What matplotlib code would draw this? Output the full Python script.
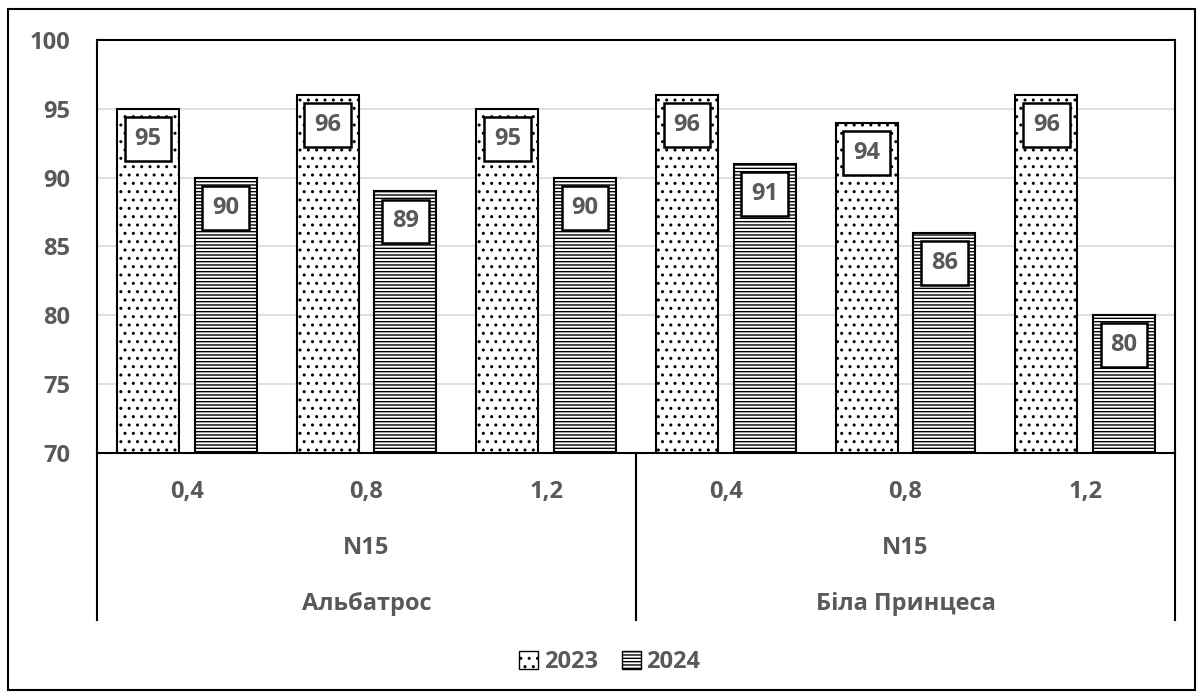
import matplotlib.pyplot as plt
import matplotlib.patches as mpatches
from matplotlib.lines import Line2D
import numpy as np

plt.rcParams['font.family'] = ['Open Sans', 'DejaVu Sans']
plt.rcParams['hatch.linewidth'] = 1.0

doses = ['0,4', '0,8', '1,2', '0,4', '0,8', '1,2']
fert = ['N15', 'N15']
varieties = ['Альбатрос', 'Біла Принцеса']
y2023 = [95, 96, 95, 96, 94, 96]
y2024 = [90, 89, 90, 91, 86, 80]

grey = '#595959'
fs = 17
fig = plt.figure(figsize=(12.03, 6.98), dpi=100)
ax = fig.add_axes([0.0806, 0.351, 0.8961, 0.5917])

x = np.arange(len(doses))
w = 0.345
off = 0.216
ax.bar(x - off, y2023, w, color='white', edgecolor='black', hatch='..', linewidth=1.5, zorder=2)
ax.bar(x + off, y2024, w, color='white', edgecolor='black', hatch='-----', linewidth=1.5, zorder=2)

# value boxes near the top of each bar
for xs, vals in ((x - off, y2023), (x + off, y2024)):
    for xi, v in zip(xs, vals):
        ax.annotate(str(v), (xi, v), xytext=(0, -30), textcoords='offset pixels',
                    ha='center', va='center', fontsize=fs, fontweight='bold', color=grey,
                    bbox=dict(boxstyle='square,pad=0.42', fc='white', ec='black', lw=1.8),
                    zorder=5)

ax.set_xlim(-0.5, len(doses) - 0.5)
ax.set_ylim(70, 100)
ax.set_yticks(range(70, 101, 5))
ax.yaxis.grid(True, color='#d9d9d9', lw=1.2, zorder=0)
ax.tick_params(axis='y', length=0, pad=19, labelsize=fs, labelcolor=grey)
for lab in ax.get_yticklabels():
    lab.set_fontweight('bold')
ax.set_xticks([])
for s in ax.spines.values():
    s.set_color('black')
    s.set_linewidth(1.5)

# multi-level category axis
tr = ax.get_xaxis_transform()
for xi, d in zip(x, doses):
    ax.text(xi, -0.094, d, transform=tr, ha='center', va='center',
            fontsize=fs, fontweight='bold', color=grey)
for i, (f, v) in enumerate(zip(fert, varieties)):
    cx = 3 * i + 1
    ax.text(cx, -0.230, f, transform=tr, ha='center', va='center',
            fontsize=fs, fontweight='bold', color=grey)
    ax.text(cx, -0.366, v, transform=tr, ha='center', va='center',
            fontsize=fs, fontweight='bold', color=grey)
for xb in (-0.5, 2.5, 5.5):
    ax.add_line(Line2D([xb, xb], [0, -0.405], transform=tr, color='black',
                       lw=1.5, clip_on=False))

handles = [mpatches.Patch(facecolor='white', edgecolor='black', hatch='..', label='2023'),
           mpatches.Patch(facecolor='white', edgecolor='black', hatch='-----', label='2024')]
leg = fig.legend(handles=handles, loc='center', bbox_to_anchor=(0.507, 0.051), ncol=2,
                 frameon=False, fontsize=fs, handlelength=0.8, handleheight=0.8,
                 handletextpad=0.25, columnspacing=1.0)
for t in leg.get_texts():
    t.set_fontweight('bold')
    t.set_color(grey)

fig.patches.append(mpatches.Rectangle((0.0066, 0.0115), 0.9868, 0.9756, transform=fig.transFigure,
                                      fill=False, ec='black', lw=1.5))

fig.savefig('out.png', dpi=100)
